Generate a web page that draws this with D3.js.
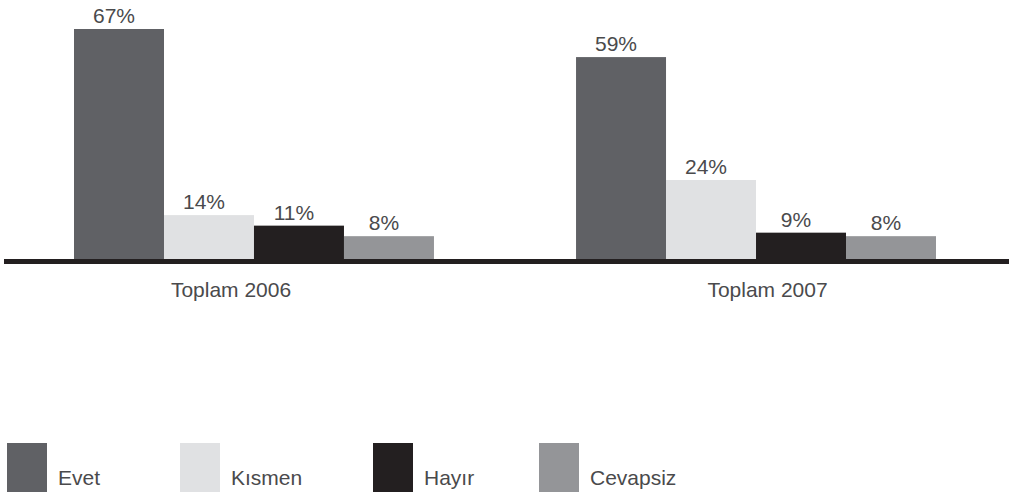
<!DOCTYPE html>
<html><head><meta charset="utf-8">
<script src="https://cdn.jsdelivr.net/npm/d3@7"></script>
<style>html,body{margin:0;padding:0;background:#fff;}svg{display:block;}</style>
</head><body>
<svg id="chart" width="1009" height="492"></svg>
<script>
const categories = ["Toplam 2006", "Toplam 2007"];
const seriesNames = ["Evet", "Kısmen", "Hayır", "Cevapsiz"];
const evet = [67, 59];
const kismen = [14, 24];
const hayir = [11, 9];
const cevapsiz = [8, 8];
const seriesValues = [evet, kismen, hayir, cevapsiz];
const colors = ["#606165", "#e0e1e3", "#231f20", "#949598"];
const legendX = [7, 180, 373, 539];

const svg = d3.select("#chart");
const font = "'Liberation Sans', Arial, Helvetica, sans-serif";
const textColor = "#4a4a4c";

const x0 = d3.scaleBand().domain(categories).range([74, 936]).paddingInner(0.283).paddingOuter(0);
const x1 = d3.scaleBand().domain(seriesNames).range([0, x0.bandwidth()]).padding(0);
const y = d3.scaleLinear().domain([1.5, 67]).range([259, 29]);
const baseY = 259;
const labelX = d3.scalePoint().domain(categories).range([231, 767.5]);

const data = [];
categories.forEach((c, ci) => {
  seriesNames.forEach((s, si) => {
    data.push({cat: c, ser: s, si: si, v: seriesValues[si][ci]});
  });
});

const g = svg.append("g");
g.selectAll("rect.bar").data(data).enter().append("rect")
  .attr("class", "bar")
  .attr("x", d => x0(d.cat) + x1(d.ser))
  .attr("y", d => y(d.v))
  .attr("width", x1.bandwidth())
  .attr("height", d => baseY - y(d.v))
  .attr("fill", d => colors[d.si]);

g.selectAll("text.val").data(data).enter().append("text")
  .attr("class", "val")
  .attr("x", d => x0(d.cat) + x1(d.ser) + x1.bandwidth() / 2 - 5)
  .attr("y", d => y(d.v) - 6)
  .attr("text-anchor", "middle")
  .attr("font-family", font)
  .attr("font-size", 21)
  .attr("fill", textColor)
  .text(d => d.v + "%");

// baseline axis
g.append("line")
  .attr("x1", 4).attr("x2", 1009)
  .attr("y1", 261.5).attr("y2", 261.5)
  .attr("stroke", "#231f20").attr("stroke-width", 5);

g.selectAll("text.cat").data(categories).enter().append("text")
  .attr("class", "cat")
  .attr("x", d => labelX(d))
  .attr("y", 297)
  .attr("text-anchor", "middle")
  .attr("font-family", font)
  .attr("font-size", 21)
  .attr("fill", textColor)
  .text(d => d);

const leg = svg.append("g").selectAll("g").data(seriesNames).enter().append("g")
  .attr("transform", (d, i) => `translate(${legendX[i]},0)`);
leg.append("rect").attr("x", 0).attr("y", 443).attr("width", 40).attr("height", 50)
  .attr("fill", (d, i) => colors[i]);
leg.append("text").attr("x", 51).attr("y", 485)
  .attr("font-family", font).attr("font-size", 21).attr("fill", textColor)
  .text(d => d);
</script>
</body></html>
